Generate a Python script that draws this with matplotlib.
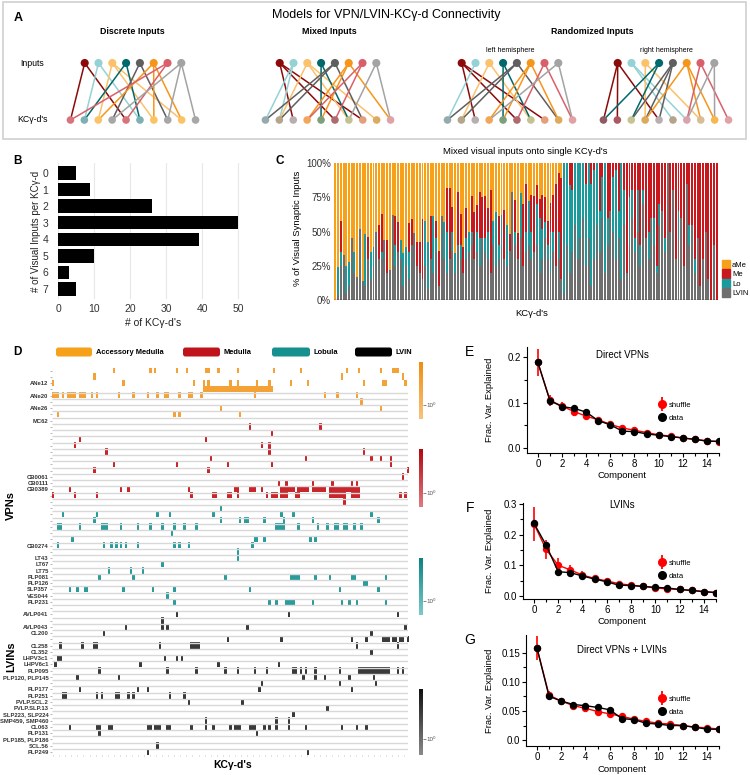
import matplotlib

matplotlib.use("Agg")
import matplotlib.pyplot as plt
import numpy as np
from matplotlib.colors import LinearSegmentedColormap, ListedColormap
from matplotlib.lines import Line2D
from matplotlib.patches import FancyBboxPatch, Patch, Rectangle

plt.rcParams["font.family"] = ["Liberation Sans", "DejaVu Sans"]

W, H = 750, 775

# ---- panel A: toy connectivity models (input index -> KC index) ----------
TOP_COLORS = ["#8b0a0a", "#94d2d5", "#fcc16b", "#00696b",
              "#5f5f5f", "#f7951b", "#d9606a", "#a3a3a3"]
DISCRETE_BOTTOM = ["#d8737a", "#7db0b2", "#fbc266", "#a7a7a7", "#d8737a",
                   "#7db0b2", "#fbc266", "#a7a7a7", "#fbc266", "#a7a7a7"]
MIXED_BOTTOM = ["#96aaae", "#b5a58b", "#b7aeb1", "#f2a65c", "#7e9f7b",
                "#ae6b6f", "#c4c192", "#e4a07b", "#ddab5e", "#e0a2a5"]
RIGHT_BOTTOM = ["#8e5b61", "#a9595f", "#c6c493", "#d9aa5f", "#b9afb2",
                "#b4a48a", "#d9a4a9", "#d8bd95", "#f7b94f", "#e0a2a4"]
DISCRETE_EDGES = [(0, 0), (0, 4), (1, 1), (1, 5), (2, 2), (2, 6), (2, 8),
                  (3, 1), (3, 5), (4, 3), (4, 7), (5, 2), (5, 6), (5, 8),
                  (6, 0), (6, 4), (7, 3), (7, 7), (7, 9)]
MIXED_EDGES = [(0, 2), (0, 5), (0, 7), (1, 0), (1, 1), (2, 1), (2, 6), (2, 8),
               (3, 4), (3, 6), (4, 0), (4, 1), (4, 7), (5, 3), (5, 4), (5, 9),
               (6, 3), (6, 5), (7, 6), (7, 9)]
LEFT_EDGES = [(0, 2), (0, 5), (0, 7), (1, 0), (2, 1), (2, 6), (3, 4), (3, 6),
              (4, 0), (4, 1), (4, 8), (5, 3), (5, 4), (5, 8), (6, 5), (6, 9),
              (7, 3), (7, 9)]
RIGHT_EDGES = [(0, 0), (0, 1), (0, 4), (1, 5), (1, 6), (2, 3), (2, 7), (3, 0),
               (3, 2), (4, 2), (4, 3), (4, 4), (5, 3), (5, 7), (5, 8), (6, 6),
               (6, 9), (7, 6), (7, 8)]

# ---- panel B --------------------------------------------------------------
N_INPUTS = [0, 1, 2, 3, 4, 5, 6, 7]
N_KC = [5, 9, 26, 50, 39, 10, 3, 5]

# ---- panel C: % of visual synaptic input per KC (aMe = remainder) --------
LVIN_PCT = [0, 4, 25, 33, 5, 10, 45, 20, 17, 52, 14, 10, 30, 15, 25, 50, 30, 30, 44, 20,
            22, 62, 25, 35, 30, 10, 25, 15, 40, 49, 25, 20, 15, 25, 8, 30, 20, 35, 10, 61,
            30, 20, 30, 35, 20, 40, 30, 20, 30, 35, 40, 30, 35, 25, 45, 35, 30, 20, 40, 25,
            30, 38, 30, 25, 36, 79, 40, 30, 45, 25, 35, 40, 30, 35, 40, 20, 30, 45, 30, 20,
            35, 25, 30, 15,
            5, 40, 20, 35, 55, 30, 45, 60, 25, 45, 10, 30, 55, 35, 60, 20, 40, 65, 50, 30,
            45, 15, 55, 20, 40, 60, 35, 50, 25, 70, 45, 30, 60, 40, 20, 55, 65, 35, 100, 50,
            80, 30, 45, 60, 25, 85, 40, 55, 20, 45, 10, 30, 50, 15, 0, 40, 0]
LO_PCT = [0, 20, 10, 0, 20, 18, 0, 15, 0, 0, 0, 38, 0, 20, 14, 0, 0, 5, 0, 0,
          0, 0, 15, 0, 14, 24, 14, 20, 0, 0, 0, 0, 0, 33, 34, 0, 41, 10, 0, 0,
          27, 30, 0, 15, 14, 0, 10, 0, 15, 15, 10, 0, 15, 20, 0, 10, 20, 0, 18, 39,
          10, 24, 0, 30, 0, 0, 10, 0, 33, 0, 15, 32, 20, 0, 30, 40, 22, 12, 10, 30,
          15, 0, 20, 0,
          95, 60, 64, 45, 45, 70, 55, 40, 60, 55, 75, 65, 45, 30, 30, 80, 20, 0, 40, 65,
          20, 85, 25, 0, 35, 20, 10, 30, 15, 10, 0, 20, 0, 20, 5, 15, 0, 10, 0, 0,
          0, 0, 20, 0, 0, 0, 15, 0, 10, 0, 0, 0, 0, 0, 0, 0, 0]
ME_PCT = [0, 0, 23, 0, 0, 0, 0, 0, 0, 0, 0, 0, 16, 0, 0, 0, 25, 28, 0, 24,
          0, 0, 21, 22, 0, 0, 0, 21, 19, 0, 17, 22, 44, 0, 0, 31, 0, 13, 26, 0,
          0, 32, 52, 18, 0, 39, 23, 19, 22, 0, 26, 34, 19, 34, 30, 31, 17, 60, 0, 0,
          21, 0, 36, 0, 12, 0, 23, 19, 0, 45, 35, 0, 27, 41, 14, 14, 25, 18, 18, 21,
          27, 60, 43, 74,
          0, 0, 16, 20, 0, 0, 0, 0, 15, 0, 15, 5, 0, 35, 10, 0, 40, 35, 10, 5,
          35, 0, 20, 80, 25, 20, 55, 20, 60, 20, 55, 50, 40, 40, 75, 30, 35, 55, 0, 50,
          20, 70, 35, 40, 75, 15, 45, 45, 70, 55, 90, 70, 50, 85, 100, 60, 100]

# ---- panel D: KC columns hit by each input row ------------------------------
N_KC_COLS = 147
N_ROWS = 62
AME_HITS = {
    0: [25, 40, 42, 51, 55, 63, 64, 68, 76, 91, 102, 121, 126, 135, 140, 141, 142],
    1: [17, 119, 144],
    2: [0, 29, 58, 62, 64, 73, 76, 84, 89, 98, 105, 128, 136, 137, 145],
    3: list(range(62, 91)),
    4: [0, 1, 2, 4, 6, 7, 8, 9, 11, 12, 13, 16, 18, 27, 33, 39, 43, 46, 47, 52, 56,
        57, 61, 83, 112, 117, 125],
    5: [127],
    6: [69, 135],
    7: [2, 50, 52, 77],
}
ME_HITS = {
    9: [81, 110],
    10: [90],
    11: [11, 63],
    12: [9, 86, 89],
    13: [22, 89, 128],
    14: [65, 104, 131, 135, 139],
    15: [25, 51, 72, 90, 139],
    16: [17, 64, 146],
    17: [144],
    18: [93, 96, 107, 115, 123, 125],
    19: [7, 28, 31, 56, 75, 76, 81, 82, 83, 86] + [c for c in range(94, 127) if c not in (100, 106, 113)],
    20: [0, 9, 18, 57, 66, 67, 72, 73, 76, 88, 90, 91, 92, 94, 95, 96, 100, 101, 114,
         115, 116, 117, 118, 119, 120, 123, 124, 125, 126, 143, 145],
    21: [120],
}
LO_HITS = {
    22: [69],
    23: [4, 18, 43, 48, 66, 94, 99, 131],
    24: [17, 69, 77, 79, 80, 87, 95, 107, 134],
    25: [2, 3, 11, 20, 21, 22, 28, 35, 40, 45, 50, 54, 59, 92, 93, 94, 95, 101, 109,
         113, 116, 117, 120, 121, 124, 127],
    26: [49],
    27: [8, 83, 84, 87, 106, 108],
    28: [2, 21, 24, 26, 28, 30, 35, 50, 52, 56, 82],
    29: [76],
    30: [76],
    31: [45],
    32: [23, 32, 37],
    33: [19, 33, 71, 98, 99, 100, 101, 108, 114, 123, 124, 137],
    34: [128, 129],
    35: [7, 10, 13, 14, 29, 41, 50, 81, 118, 134],
    36: [47],
    37: [50, 89, 92, 96, 97, 98, 99, 107, 119, 122, 125, 137],
}
LVIN_HITS = {
    39: [51, 97, 142],
    40: [45],
    41: [30, 45, 47, 80, 145],
    42: [21, 131],
    43: [72, 94, 123, 129, 136, 137, 138, 140, 141, 143, 144, 146],
    44: [3, 12, 17, 18, 44, 57, 58, 59, 60, 125, 142],
    45: [131],
    46: [2, 3, 46, 51, 53],
    47: [1, 36, 68, 93],
    48: [19, 47, 59, 71, 76, 83, 88, 99, 100, 102, 104, 108, 118] + list(range(126, 139)) + [142, 144],
    49: [10, 27, 103, 108, 112, 122, 132],
    50: [86, 118, 133],
    51: [11, 35, 39, 85, 123],
    52: [4, 5, 18, 20, 26, 27, 31, 33, 48, 54],
    53: [56, 78],
    54: [113],
    55: [99],
    56: [63, 92, 97],
    57: [7, 18, 19, 23, 24, 39, 40, 42, 43, 44, 47, 48, 57, 63, 66, 73, 75, 76, 77,
         81, 82, 83, 87, 89, 92, 97, 104, 119, 125, 129],
    58: [19, 84],
    60: [43],
    61: [39, 105],
}
ROW_LABELS = {2: "ANe12", 4: "ANe20", 6: "ANe26", 8: "MC62", 17: "CB0061",
              18: "CB0111", 19: "CB0389", 28: "CB0274", 30: "LT43", 31: "LT67",
              32: "LT75", 33: "PLP081", 34: "PLP126", 35: "SLP357", 36: "VES044",
              37: "PLP231", 39: "AVLP041", 41: "AVLP043", 42: "CL200", 44: "CL258",
              45: "CL352", 46: "LHPV3c1", 47: "LHPV6c1", 48: "PLP095",
              49: "PLP120, PLP145", 51: "PLP177", 52: "PLP251", 53: "PVLP.SCL.2",
              54: "PVLP.SLP.13", 55: "SLP223, SLP224", 56: "SMP459, SMP460",
              57: "CL063", 58: "PLP131", 59: "PLP185, PLP186", 60: "SCL.56",
              61: "PLP249"}

# ---- panels E-G: PCA variance explained -------------------------------------
COMPONENTS = list(range(16))
E_DATA = [0.188, 0.104, 0.091, 0.087, 0.079, 0.060, 0.051, 0.037, 0.036, 0.031,
          0.028, 0.025, 0.022, 0.019, 0.015, 0.0145]
E_SHUF = [0.188, 0.105, 0.092, 0.080, 0.070, 0.062, 0.052, 0.044, 0.039, 0.034,
          0.029, 0.026, 0.022, 0.019, 0.016, 0.014]
E_ERR = [0.030, 0.012, 0.010, 0.009, 0.008, 0.006, 0.005, 0.004, 0.004, 0.003,
         0.003, 0.002, 0.002, 0.002, 0.002, 0.002]
F_DATA = [0.237, 0.166, 0.079, 0.076, 0.065, 0.055, 0.046, 0.035, 0.034, 0.031,
          0.028, 0.026, 0.021, 0.018, 0.014, 0.011]
F_SHUF = [0.235, 0.152, 0.100, 0.085, 0.068, 0.057, 0.049, 0.040, 0.035, 0.031,
          0.026, 0.023, 0.021, 0.018, 0.014, 0.011]
F_ERR = [0.055, 0.030, 0.025, 0.015, 0.012, 0.009, 0.007, 0.006, 0.005, 0.004,
         0.004, 0.003, 0.003, 0.003, 0.002, 0.002]
G_DATA = [0.158, 0.075, 0.067, 0.061, 0.059, 0.056, 0.052, 0.037, 0.035, 0.029,
          0.0275, 0.025, 0.025, 0.022, 0.019, 0.0185]
G_SHUF = [0.158, 0.077, 0.067, 0.059, 0.0545, 0.049, 0.045, 0.0405, 0.036, 0.032,
          0.029, 0.0275, 0.025, 0.0225, 0.021, 0.019]
G_ERR = [0.020, 0.007, 0.005, 0.005, 0.005, 0.004, 0.004, 0.003, 0.003, 0.003,
         0.003, 0.002, 0.002, 0.002, 0.002, 0.002]

ORANGE, RED, TEAL, GREY = "#f7a11a", "#c8171d", "#1b9a9b", "#6e6e6e"

fig = plt.figure(figsize=(W / 100, H / 100), dpi=100)


def px_axes(x0, y0, x1, y1):
    ax = fig.add_axes([x0 / W, 1 - y1 / H, (x1 - x0) / W, (y1 - y0) / H])
    ax.patch.set_visible(False)
    return ax


bg = px_axes(0, 0, W, H)
bg.set_xlim(0, W)
bg.set_ylim(H, 0)
bg.axis("off")


def label(x, y, s, size, **kw):
    bg.text(x, y, s, fontsize=size, ha=kw.pop("ha", "center"), va=kw.pop("va", "center"), **kw)


# ---- A -------------------------------------------------------------------
bg.add_patch(Rectangle((3, 1.5), 743, 137.5, fill=False, ec="#d0d0d0", lw=1.2))
label(18, 18, "A", 9, weight="bold")
label(386, 15, "Models for VPN/LVIN-KCγ-d Connectivity", 9)
label(132, 31, "Discrete Inputs", 6.4, weight="bold")
label(329, 31, "Mixed Inputs", 6.4, weight="bold")
label(592, 31, "Randomized Inputs", 6.4, weight="bold")
label(510, 50, "left hemisphere", 5)
label(666, 50, "right hemisphere", 5)
label(20, 63, "Inputs", 6.3, ha="left")
label(17, 120, "KCγ-d's", 6.3, ha="left")


def draw_network(cx, bottom_colors, edges):
    tx = cx + 13.8 * (np.arange(len(TOP_COLORS)) - (len(TOP_COLORS) - 1) / 2)
    bx = cx + 13.9 * (np.arange(len(bottom_colors)) - (len(bottom_colors) - 1) / 2)
    for t, b in edges:
        bg.plot([tx[t], bx[b]], [63, 120], color=TOP_COLORS[t], lw=1.1, zorder=2)
    bg.scatter(tx, np.full(len(tx), 63), s=34, c=TOP_COLORS, zorder=3, linewidths=0)
    bg.scatter(bx, np.full(len(bx), 120), s=30, c=bottom_colors, zorder=3, linewidths=0)


draw_network(133, DISCRETE_BOTTOM, DISCRETE_EDGES)
draw_network(328, MIXED_BOTTOM, MIXED_EDGES)
draw_network(510, MIXED_BOTTOM, LEFT_EDGES)
draw_network(666, RIGHT_BOTTOM, RIGHT_EDGES)

# ---- B -------------------------------------------------------------------
label(17, 161, "B", 8.5, weight="bold")
axB = px_axes(58, 163, 240, 299)
axB.barh(N_INPUTS, N_KC, height=0.8, color="black", zorder=2)
axB.set_xlim(0, 50.5)
axB.set_ylim(7.6, -0.6)
axB.set_xticks(range(0, 51, 10))
axB.set_yticks(N_INPUTS)
axB.grid(axis="x", color="#e8e8e8", lw=0.8, zorder=0)
for s in axB.spines.values():
    s.set_visible(False)
axB.tick_params(length=0, labelsize=7.5, colors="#333")
axB.tick_params(axis="y", pad=7)
label(36, 231, "# of Visual Inputs per KCγ-d", 7, rotation=90, color="#222")
label(153, 323, "# of KCγ-d's", 7.5, color="#222")

# ---- C -------------------------------------------------------------------
label(280, 161, "C", 8.5, weight="bold")
axC = px_axes(334, 163, 718, 300)
lvin = np.array(LVIN_PCT, float)
lo = np.array(LO_PCT, float)
me = np.array(ME_PCT, float)
ame = np.clip(100 - lvin - lo - me, 0, None)
xs = np.arange(len(lvin))
axC.bar(xs, lvin, width=0.72, color=GREY, lw=0)
axC.bar(xs, lo, bottom=lvin, width=0.72, color=TEAL, lw=0)
axC.bar(xs, me, bottom=lvin + lo, width=0.72, color=RED, lw=0)
axC.bar(xs, ame, bottom=lvin + lo + me, width=0.72, color=ORANGE, lw=0)
axC.axhline(0, color="#333", lw=1)
axC.set_xlim(-0.5, len(xs) - 0.5)
axC.set_ylim(0, 100)
axC.set_xticks([])
axC.set_yticks([0, 25, 50, 75, 100])
axC.set_yticklabels(["0%", "25%", "50%", "75%", "100%"])
axC.tick_params(length=0, labelsize=7, colors="#333", pad=2)
for s in axC.spines.values():
    s.set_visible(False)
axC.legend(handles=[Patch(color=ORANGE, label="aMe"), Patch(color=RED, label="Me"),
                    Patch(color=TEAL, label="Lo"), Patch(color=GREY, label="LVIN")],
           loc="upper left", bbox_to_anchor=(722, 260), bbox_transform=bg.transData,
           frameon=False, fontsize=5.5, handlelength=1.0, handleheight=1.3,
           handletextpad=0.3, labelspacing=0.1, borderpad=0, borderaxespad=0)
label(525, 152, "Mixed visual inputs onto single KCγ-d's", 6.8)
label(297, 228, "% of Visual Synaptic Inputs", 6.8, rotation=90)
label(532, 313, "KCγ-d's", 6.8)

# ---- D -------------------------------------------------------------------
label(17, 352, "D", 8.5, weight="bold")
for x0, x1, col, text in [(56, 92, ORANGE, "Accessory Medulla"), (183, 220, "#c0141c", "Medulla"),
                          (272, 310, "#15908f", "Lobula"), (355, 392, "black", "LVIN")]:
    bg.add_patch(FancyBboxPatch((x0, 347.5), x1 - x0, 9, boxstyle="round,pad=0,rounding_size=2.5",
                                fc=col, ec="none"))
    label(x1 + 3.5, 352.5, text, 5.4, ha="left", weight="bold")

axD = px_axes(52, 367.6, 408, 755)
codes = np.zeros((N_ROWS, N_KC_COLS))
for code, hits in enumerate([AME_HITS, ME_HITS, LO_HITS, LVIN_HITS], start=1):
    for row, cols in hits.items():
        codes[row, cols] = code
axD.imshow(np.ma.masked_equal(codes, 0),
           cmap=ListedColormap(["#f4a135", "#c9252b", "#2a9c9c", "#3a3a3a"]),
           vmin=0.5, vmax=4.5, aspect="auto", interpolation="nearest",
           extent=(-0.5, N_KC_COLS - 0.5, N_ROWS - 0.5, -0.5), zorder=2)
axD.hlines(np.arange(3, N_ROWS - 1) + 0.5, -0.5, N_KC_COLS - 0.5, color="#d8d8d8", lw=1.0, zorder=3)
axD.set_xlim(-0.5, N_KC_COLS - 0.5)
axD.set_ylim(N_ROWS - 0.5, -0.5)
axD.set_yticks(range(N_ROWS))
axD.set_yticklabels([ROW_LABELS.get(r, "") for r in range(N_ROWS)])
for t in axD.get_yticklabels():
    t.set_fontweight("bold")
axD.tick_params(axis="y", length=1.5, width=0.5, color="#999", labelsize=4.2, pad=1, labelcolor="#333")
axD.set_xticks(np.arange(0, N_KC_COLS, 2.5))
axD.set_xticklabels([])
axD.tick_params(axis="x", length=1, width=0.6, color="#bbb")
for s in axD.spines.values():
    s.set_visible(False)
label(11, 505, "VPNs", 8, rotation=90, weight="bold")
label(11, 657, "LVINs", 8, rotation=90, weight="bold")
label(233, 765, "KCγ-d's", 7.5, weight="bold")


def gradient_bar(y0, y1, dark, light):
    ax = px_axes(419, y0, 423, y1)
    cmap = LinearSegmentedColormap.from_list("g", [light, dark])
    ax.imshow(np.linspace(1, 0, 64)[:, None], cmap=cmap, aspect="auto", extent=(0, 1, 0, 1))
    ax.set_xticks([])
    ax.yaxis.tick_right()
    ax.set_yticks([0.24])
    ax.set_yticklabels(["10\u2070"])
    ax.tick_params(axis="y", length=2, width=0.5, labelsize=4.5, pad=0.5, colors="#555")
    for s in ax.spines.values():
        s.set_visible(False)


gradient_bar(362, 419, "#f28c0f", "#f7c27e")
gradient_bar(449, 507, "#b3080f", "#e07a80")
gradient_bar(558, 615, "#0b8383", "#7ccaca")
gradient_bar(689, 755, "#111111", "#8a8a8a")


# ---- E, F, G -------------------------------------------------------------
def pca_panel(letter, box, title, title_y, data, shuf, err, yticks, ylabels, ylim,
              minor, legend_y, xlabel_y):
    ax = px_axes(*box)
    ax.errorbar(COMPONENTS, shuf, yerr=err, color="red", marker="o", ms=4.3, lw=1,
                elinewidth=1.2, zorder=2)
    ax.plot(COMPONENTS, data, color="black", marker="o", ms=4.3, lw=1, zorder=3)
    ax.set_xlim(-0.9, 15)
    ax.set_ylim(*ylim)
    ax.set_xticks(range(0, 15, 2))
    ax.set_xticks(range(0, 16), minor=True)
    ax.set_yticks(yticks)
    ax.set_yticklabels(ylabels)
    ax.set_yticks(minor, minor=True)
    for side in ("top", "right"):
        ax.spines[side].set_visible(False)
    for side in ("left", "bottom"):
        ax.spines[side].set_linewidth(0.8)
    ax.tick_params(which="major", direction="out", length=3, width=0.8, labelsize=7, pad=1.2)
    ax.tick_params(which="minor", direction="out", length=2, width=0.8)
    shuffle_h = (Line2D([], [], ls="none", marker="|", ms=10, mew=1.3, color="red"),
                 Line2D([], [], ls="none", marker="o", ms=5.5, color="red"))
    data_h = Line2D([], [], ls="none", marker="o", ms=5.5, color="black")
    ax.legend([shuffle_h, data_h], ["shuffle", "data"], loc="center left",
              bbox_to_anchor=(658, legend_y), bbox_transform=bg.transData, frameon=False,
              fontsize=5.5, handlelength=1.0, handletextpad=0.4, labelspacing=0.7,
              borderpad=0, borderaxespad=0)
    mid = (box[1] + box[3]) / 2
    label(470, box[1] + 5, letter, 10)
    label(489, mid, "Frac. Var. Explained", 6.8, rotation=90)
    label(622, title_y, title, 7)
    label(622, xlabel_y, "Component", 6.8)


pca_panel("E", (527, 347, 719, 453), "Direct VPNs", 355, E_DATA, E_SHUF, E_ERR,
          [0, 0.1, 0.2], ["0.0", "0.1", "0.2"], (-0.011, 0.222), [0.05, 0.15], 411.5, 476)
pca_panel("F", (523, 503, 716, 599), "LVINs", 505, F_DATA, F_SHUF, F_ERR,
          [0, 0.1, 0.2, 0.3], ["0.0", "0.1", "0.2", "0.3"], (-0.01, 0.303),
          [0.05, 0.15, 0.25], 569.5, 621)
pca_panel("G", (526, 635, 719, 746), "Direct VPNs + LVINs", 650, G_DATA, G_SHUF, G_ERR,
          [0, 0.05, 0.10, 0.15], ["0.0", "0.05", "0.10", "0.15"], (-0.01, 0.18),
          [0.025, 0.075, 0.125], 705.5, 769.5)

fig.savefig("out.png", dpi=100)
